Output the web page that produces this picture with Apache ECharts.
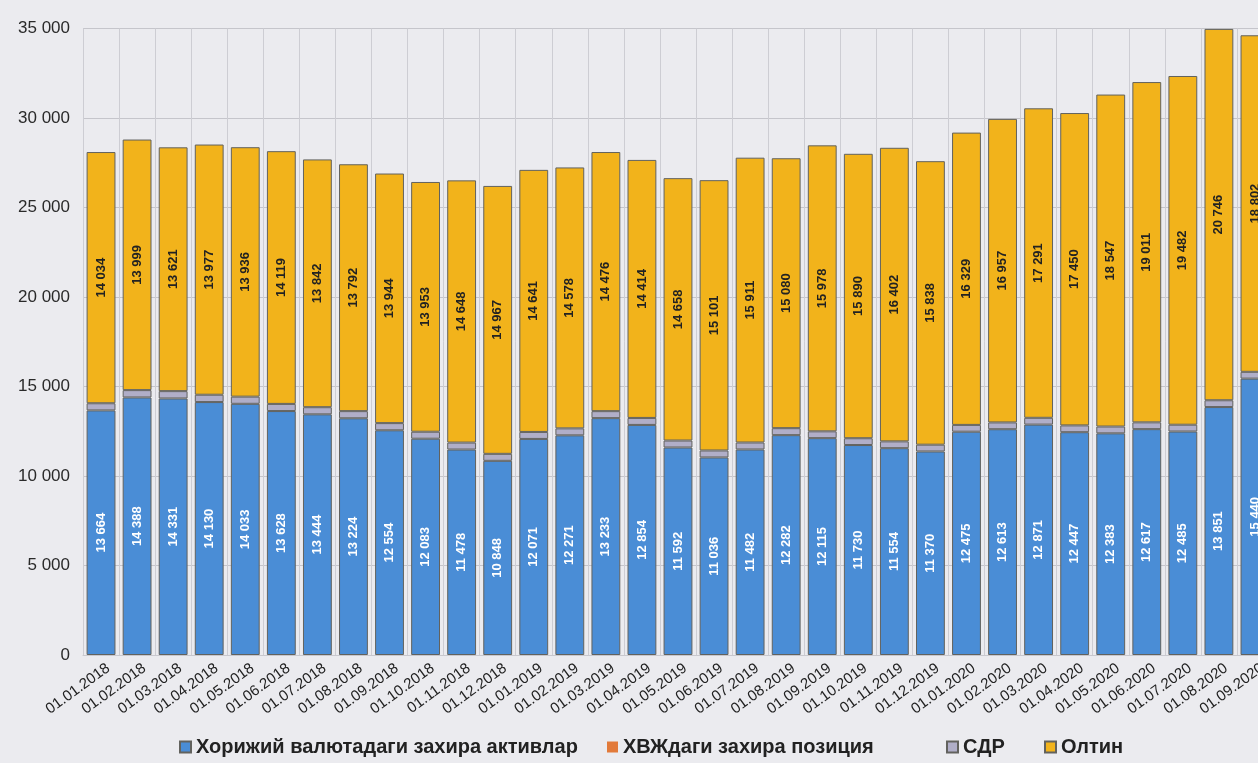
<!DOCTYPE html>
<html>
<head>
<meta charset="utf-8">
<script src="https://cdn.jsdelivr.net/npm/echarts@6/dist/echarts.min.js"></script>
<style>
html,body{margin:0;padding:0;background:#ebebef;}
#c{width:1258px;height:763px;}
</style>
</head>
<body>
<div id="c"></div>
<script>
const categories = ['01.01.2018','01.02.2018','01.03.2018','01.04.2018','01.05.2018','01.06.2018','01.07.2018','01.08.2018','01.09.2018','01.10.2018','01.11.2018','01.12.2018',
'01.01.2019','01.02.2019','01.03.2019','01.04.2019','01.05.2019','01.06.2019','01.07.2019','01.08.2019','01.09.2019','01.10.2019','01.11.2019','01.12.2019',
'01.01.2020','01.02.2020','01.03.2020','01.04.2020','01.05.2020','01.06.2020','01.07.2020','01.08.2020','01.09.2020'];
const foreignAssets = [13664,14388,14331,14130,14033,13628,13444,13224,12554,12083,11478,10848,12071,12271,13233,12854,11592,11036,11482,12282,12115,11730,11554,11370,12475,12613,12871,12447,12383,12617,12485,13851,15440];
const imfPosition = [0,0,0,0,0,0,0,0,0,0,0,0,0,0,0,0,0,0,0,0,0,0,0,0,0,0,0,0,0,0,0,0,0];
const sdr = [400,410,410,410,400,400,400,400,400,390,390,390,390,390,390,390,390,390,390,390,380,380,380,380,380,380,380,380,380,380,380,380,380];
const gold = [14034,13999,13621,13977,13936,14119,13842,13792,13944,13953,14648,14967,14641,14578,14476,14414,14658,15101,15911,15080,15978,15890,16402,15838,16329,16957,17291,17450,18547,19011,19482,20746,18802];
const seriesNames = ['Хорижий валютадаги захира активлар','ХВЖдаги захира позиция','СДР','Олтин'];
const yTicks = [0,5000,10000,15000,20000,25000,30000,35000];

const FONT = 'Liberation Sans, Arial, sans-serif';
const fmt = v => String(v).replace(/\B(?=(\d{3})+(?!\d))/g, ' ');
const chart = echarts.init(document.getElementById('c'));
const border = {borderColor:'#62625e', borderWidth:1};
const legendLeft = [174, 602, 941, 1039];
const legends = seriesNames.map((n, i) => ({
  bottom:1, left:legendLeft[i], icon:'rect', itemWidth:11, itemHeight:11,
  textStyle:{fontFamily:FONT, fontWeight:'bold', fontSize:20, color:'#222'},
  data:[n]
}));
chart.setOption({
  backgroundColor:'#ebebef',
  animation:false,
  grid:{left:83, width:1190, top:28.5, bottom:108, containLabel:false, outerBoundsMode:'none'},
  legend:legends,
  xAxis:{
    type:'category', data:categories,
    axisLine:{show:true, lineStyle:{color:'#c8c8ce'}},
    axisTick:{show:false},
    splitLine:{show:true, lineStyle:{color:'#cdcdd3', width:1}},
    axisLabel:{rotate:36, interval:0, margin:17, padding:[0,-9,0,0], fontFamily:FONT, fontSize:15, color:'#222'}
  },
  yAxis:{
    type:'value', min:yTicks[0], max:yTicks[yTicks.length-1], interval:5000,
    axisLine:{show:false}, axisTick:{show:false},
    splitLine:{lineStyle:{color:'#c5c5cb'}},
    axisLabel:{margin:13, fontFamily:FONT, fontSize:17, color:'#2a2a2a', formatter:fmt}
  },
  series:[
    {name:seriesNames[0], type:'bar', stack:'s', data:foreignAssets, barCategoryGap:'20%',
     itemStyle:Object.assign({color:'#4a8dd6'}, border),
     label:{show:true, position:'inside', rotate:90, formatter:p=>fmt(p.value), fontFamily:FONT, fontWeight:'bold', fontSize:13, color:'#fff'}},
    {name:seriesNames[1], type:'bar', stack:'s', data:imfPosition,
     itemStyle:{color:'#e27a3a'}},
    {name:seriesNames[2], type:'bar', stack:'s', data:sdr,
     itemStyle:Object.assign({color:'#b0aec8'}, border)},
    {name:seriesNames[3], type:'bar', stack:'s', data:gold,
     itemStyle:Object.assign({color:'#f2b31b'}, border),
     label:{show:true, position:'inside', rotate:90, formatter:p=>fmt(p.value), fontFamily:FONT, fontWeight:'bold', fontSize:13, color:'#222'}}
  ]
});
</script>
</body>
</html>
